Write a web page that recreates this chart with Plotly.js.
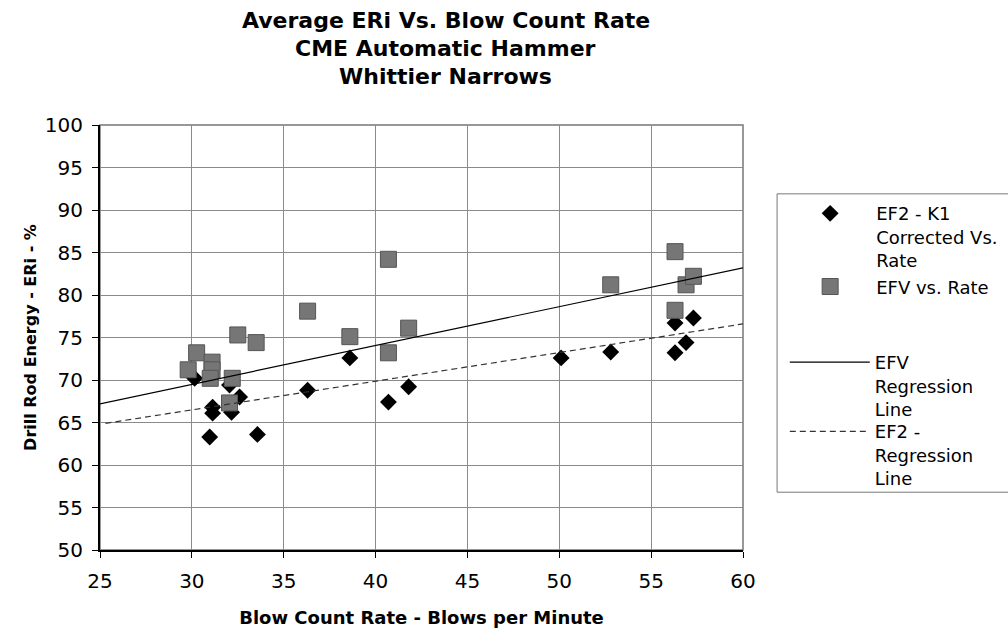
<!DOCTYPE html>
<html>
<head>
<meta charset="utf-8">
<script src="https://cdn.plot.ly/plotly-3.0.1.min.js"></script>
<style>html,body{margin:0;padding:0;background:#fff;}#chart{width:1008px;height:630px;}</style>
</head>
<body>
<div id="chart"></div>
<script>
// EF2 - K1 corrected vs. rate (black diamonds)
const ef2Rate = [30.15, 30.97, 31.13, 31.13, 32.05, 32.16, 32.6, 33.57, 36.3, 38.6, 40.7, 41.8, 50.1, 52.8, 56.3, 56.3, 56.9, 57.3];
const ef2Eri  = [70.2, 63.3, 66.1, 66.8, 69.4, 66.2, 68.0, 63.6, 68.8, 72.6, 67.4, 69.2, 72.6, 73.3, 73.2, 76.7, 74.4, 77.3];
// EFV vs. rate (gray squares)
const efvRate = [29.8, 30.26, 31.1, 31.1, 31.0, 32.2, 32.05, 32.5, 33.5, 36.3, 38.6, 40.7, 40.7, 41.8, 52.8, 56.3, 56.3, 56.9, 57.3];
const efvEri  = [71.2, 73.2, 72.1, 71.2, 70.2, 70.2, 67.3, 75.3, 74.4, 78.1, 75.1, 84.2, 73.2, 76.1, 81.2, 85.1, 78.2, 81.2, 82.2];
// Regression lines (end points)
const efvLineRate = [25, 60];
const efvLineEri  = [67.2, 83.2];
const ef2LineRate = [25.3, 60];
const ef2LineEri  = [64.9, 76.6];
// Tick labels
const xTicks = [25, 30, 35, 40, 45, 50, 55, 60];
const yTicks = [50, 55, 60, 65, 70, 75, 80, 85, 90, 95, 100];
const titleLines = ["Average ERi Vs. Blow Count Rate", "CME Automatic Hammer", "Whittier Narrows"];

const FONT = "DejaVu Sans, Arial, sans-serif";

const traces = [
  {x: ef2Rate, y: ef2Eri, type: 'scatter', mode: 'markers', name: 'EF2 - K1<br>Corrected Vs.<br>Rate',
   marker: {symbol: 'diamond', size: 13, color: '#000'}, legend: 'legend'},
  {x: efvRate, y: efvEri, type: 'scatter', mode: 'markers', name: 'EFV vs. Rate',
   marker: {symbol: 'square', size: 16, color: '#767676', line: {color: '#555', width: 1}}, legend: 'legend'},
  {x: efvLineRate, y: efvLineEri, type: 'scatter', mode: 'lines', name: 'EFV<br>Regression<br>Line',
   line: {color: '#000', width: 1.2}, legend: 'legend2'},
  {x: ef2LineRate, y: ef2LineEri, type: 'scatter', mode: 'lines', name: 'EF2 -<br>Regression<br>Line',
   line: {color: '#333', width: 1.2, dash: '6px,4px'}, legend: 'legend3'}
];

const titleY = [1.247, 1.179, 1.115];
const annotations = titleLines.map((t, i) => ({
  text: '<b>' + t + '</b>', xref: 'paper', yref: 'paper', x: 0.538, y: titleY[i],
  xanchor: 'center', yanchor: 'middle', showarrow: false,
  font: {family: FONT, size: 22, color: '#000'}
}));

const legendBase = {
  xanchor: 'left', yanchor: 'top', bgcolor: 'rgba(0,0,0,0)', borderwidth: 0,
  font: {family: FONT, size: 18}, valign: 'top', tracegroupgap: 0
};

const layout = {
  width: 1008, height: 630,
  margin: {l: 100, r: 265, t: 125, b: 80, autoexpand: false},
  paper_bgcolor: '#fff', plot_bgcolor: '#fff',
  font: {family: FONT, size: 18, color: '#000'},
  showlegend: true,
  xaxis: {
    range: [25, 60], tickvals: xTicks, ticktext: xTicks.map(String),
    showgrid: true, gridcolor: '#8a8a8a', gridwidth: 1,
    showline: true, linecolor: '#000', linewidth: 2,
    ticks: 'outside', ticklen: 6, tickcolor: '#000', ticklabelstandoff: 6,
    tickfont: {family: FONT, size: 20},
    zeroline: false,
    title: {text: '<b>Blow Count Rate - Blows per Minute</b>', font: {family: FONT, size: 18}, standoff: 19}
  },
  yaxis: {
    range: [50, 100], tickvals: yTicks, ticktext: yTicks.map(String),
    showgrid: true, gridcolor: '#8a8a8a', gridwidth: 1,
    showline: true, linecolor: '#000', linewidth: 2,
    ticks: 'outside', ticklen: 6, tickcolor: '#000', ticklabelstandoff: 5,
    tickfont: {family: FONT, size: 20},
    zeroline: false,
    title: {text: '<b>Drill Rod Energy - ERi - %</b>', font: {family: FONT, size: 16}, standoff: 4}
  },
  legend: Object.assign({}, legendBase, {x: 1.064, y: 0.835, itemwidth: 82}),
  legend2: Object.assign({}, legendBase, {x: 1.065, y: 0.485, itemwidth: 80}),
  legend3: Object.assign({}, legendBase, {x: 1.065, y: 0.322, itemwidth: 80}),
  shapes: [
    {type: 'rect', xref: 'paper', yref: 'paper', x0: 0, x1: 1, y0: 0, y1: 1,
     line: {color: '#777', width: 1.5}, fillcolor: 'rgba(0,0,0,0)', layer: 'below'},
    {type: 'rect', xref: 'paper', yref: 'paper', x0: 1.053, x1: 1.42, y0: 0.136, y1: 0.838,
     line: {color: '#777', width: 1}, fillcolor: 'rgba(0,0,0,0)'}
  ],
  annotations: annotations
};

Plotly.newPlot('chart', traces, layout, {displayModeBar: false, staticPlot: true});
</script>
</body>
</html>
